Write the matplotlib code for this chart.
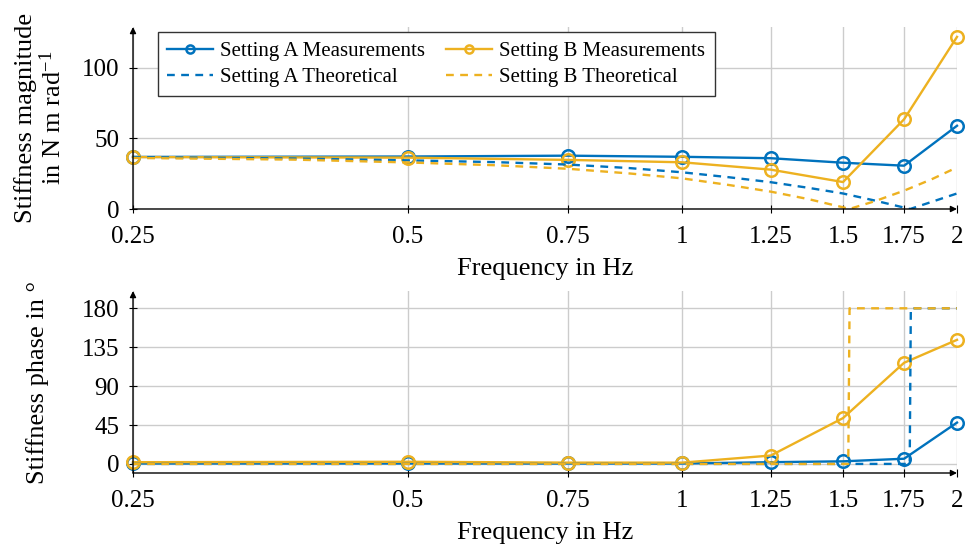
import numpy as np
import matplotlib.pyplot as plt
from matplotlib.ticker import FixedLocator, NullLocator

#
# data
#
freq = [0.25, 0.5, 0.75, 1.0, 1.25, 1.5, 1.75, 2.0]
mag_A_meas = [36.9, 37.2, 37.8, 37.0, 36.0, 32.8, 30.7, 59.0]
mag_B_meas = [36.8, 36.4, 34.8, 33.1, 27.9, 19.1, 63.6, 122.0]
phase_A_meas = [0.5, 0.5, 0.5, 0.5, 2.0, 3.0, 6.0, 47.8]
phase_B_meas = [2.0, 2.5, 1.5, 1.5, 9.7, 53.0, 117.0, 143.5]

freq_A_theo = [0.25, 0.375, 0.5, 0.625, 0.75, 0.875, 1.0, 1.125, 1.25,
               1.375, 1.5, 1.625, 1.75, 1.777, 1.875, 2.0]
mag_A_theo = [36.8, 35.8, 34.5, 33.2, 31.5, 29.0, 26.0, 22.5, 19.0,
              15.0, 11.0, 6.0, 1.0, 0.0, 5.0, 11.0]
freq_B_theo = [0.25, 0.375, 0.5, 0.625, 0.75, 0.875, 1.0, 1.125, 1.25,
               1.375, 1.5, 1.524, 1.625, 1.75, 1.875, 2.0]
mag_B_theo = [36.2, 35.0, 33.0, 31.0, 28.5, 25.2, 21.7, 17.0, 12.3,
              7.0, 1.2, 0.0, 5.5, 13.0, 21.0, 29.5]

phase_A_theo_f = [0.25, 1.775, 1.78, 2.0]
phase_A_theo = [0, 0, 180, 180]
phase_B_theo_f = [0.25, 1.52, 1.525, 2.0]
phase_B_theo = [0, 0, 180, 180]

xticks = [0.25, 0.5, 0.75, 1, 1.25, 1.5, 1.75, 2]
xticklabels = ['0.25', '0.5', '0.75', '1', '1.25', '1.5', '1.75', '2']

#
# style
#
blue = '#0072BD'
orange = '#EDB120'
plt.rcParams['font.family'] = ['Liberation Serif', 'DejaVu Serif']
plt.rcParams['mathtext.fontset'] = 'custom'
plt.rcParams['mathtext.rm'] = 'Liberation Serif'
plt.rcParams['mathtext.it'] = 'Liberation Serif:italic'
fs_tick = 18
fs_label = 19

fig = plt.figure(figsize=(9.68, 5.46), dpi=100)
ax1 = fig.add_axes([133 / 968, 1 - 209 / 546, 824 / 968, 182 / 546])
ax2 = fig.add_axes([133 / 968, 1 - 473 / 546, 824 / 968, 182 / 546])

meas_kw = dict(lw=1.7, marker='o', ms=9, mfc='none', mew=1.8)
theo_kw = dict(lw=1.7, dashes=(3.3, 2.7))


def style_axis(ax, ylim, yticks):
    ax.set_xscale('log', base=2)
    ax.set_xlim(0.25, 2)
    ax.set_ylim(*ylim)
    ax.xaxis.set_major_locator(FixedLocator(xticks))
    ax.xaxis.set_minor_locator(NullLocator())
    ax.set_xticklabels(xticklabels)
    ax.set_yticks(yticks)
    ax.grid(True, color='#cccccc', lw=1)
    ax.set_axisbelow(True)
    for s in ax.spines.values():
        s.set_visible(False)
    ax.tick_params(direction='inout', length=6, width=0.8, labelsize=fs_tick)
    ax.tick_params(axis='x', pad=9)
    ax.tick_params(axis='y', pad=7)
    ax.annotate('', xy=(1.0, 0), xytext=(0, 0), xycoords='axes fraction',
                arrowprops=dict(arrowstyle='-|>', color='black', lw=1,
                                mutation_scale=9, shrinkA=0, shrinkB=0))
    ax.annotate('', xy=(0, 1.0), xytext=(0, 0), xycoords='axes fraction',
                arrowprops=dict(arrowstyle='-|>', color='black', lw=1,
                                mutation_scale=9, shrinkA=0, shrinkB=0))
    ax.set_xlabel('Frequency in Hz', fontsize=fs_label)
    ax.xaxis.set_label_coords(0.5, -0.267)


#
# magnitude
#
lA, = ax1.plot(freq, mag_A_meas, color=blue, label='Setting A Measurements', clip_on=False, **meas_kw)
lB, = ax1.plot(freq, mag_B_meas, color=orange, label='Setting B Measurements', clip_on=False, **meas_kw)
tA, = ax1.plot(freq_A_theo, mag_A_theo, color=blue, label='Setting A Theoretical', **theo_kw)
tB, = ax1.plot(freq_B_theo, mag_B_theo, color=orange, label='Setting B Theoretical', **theo_kw)
style_axis(ax1, (0, 129), [0, 50, 100])
ax1.set_ylabel('Stiffness magnitude\nin N m rad$^{-1}$', fontsize=fs_label, linespacing=1.1)
ax1.yaxis.set_label_coords(-0.082, 0.5)

# pgfplots fills the legend row by row
leg = ax1.legend([lA, tA, lB, tB], [h.get_label() for h in (lA, tA, lB, tB)],
                 ncol=2, loc='upper left', bbox_to_anchor=(0.0303, 0.9725),
                 borderaxespad=0, fontsize=15, markerscale=0.65,
                 frameon=True, fancybox=False, edgecolor='#333333', framealpha=1,
                 handlelength=2.2, handletextpad=0.35, columnspacing=1.0,
                 borderpad=0.45, labelspacing=0.3)
leg.get_frame().set_linewidth(1.0)

#
# phase
#
ax2.plot(freq, phase_A_meas, color=blue, clip_on=False, **meas_kw)
ax2.plot(freq, phase_B_meas, color=orange, clip_on=False, **meas_kw)
ax2.plot(phase_A_theo_f, phase_A_theo, color=blue, **theo_kw)
ax2.plot(phase_B_theo_f, phase_B_theo, color=orange, **theo_kw)
style_axis(ax2, (-10.5, 200), [0, 45, 90, 135, 180])
ax2.set_ylabel('Stiffness phase in °', fontsize=fs_label)
ax2.yaxis.set_label_coords(-0.102, 0.5)

fig.savefig('out.png', dpi=100)
